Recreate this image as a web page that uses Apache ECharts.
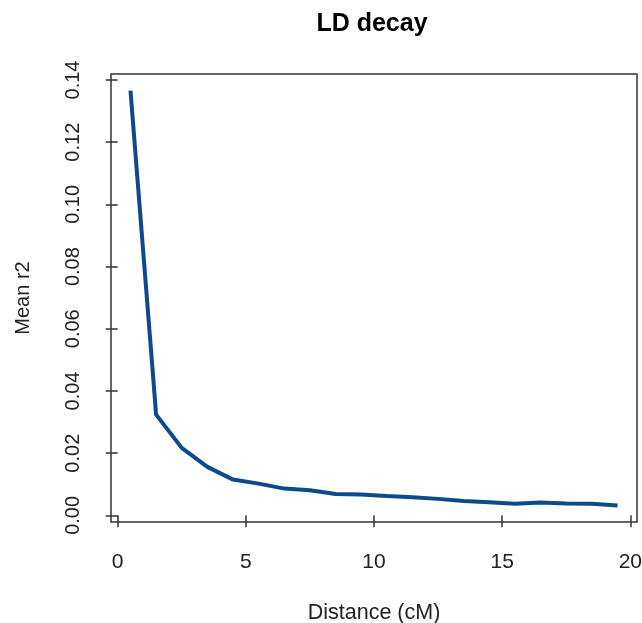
<!DOCTYPE html>
<html>
<head>
<meta charset="utf-8">
<title>LD decay</title>
<script src="https://cdn.jsdelivr.net/npm/echarts@6/dist/echarts.min.js"></script>
<style>
  html, body { margin: 0; padding: 0; background: #fff; }
  #chart { width: 642px; height: 623px; }
</style>
</head>
<body>
<div id="chart"></div>
<script>
// distance bins (cM) and mean r2
var distance = [0.5, 1.5, 2.5, 3.5, 4.5, 5.5, 6.5, 7.5, 8.5, 9.5,
                10.5, 11.5, 12.5, 13.5, 14.5, 15.5, 16.5, 17.5, 18.5, 19.5];
var meanR2 = [0.1366, 0.0324, 0.0217, 0.0156, 0.0115, 0.0102, 0.0086, 0.0081, 0.0069, 0.0067,
              0.0062, 0.0058, 0.0053, 0.0046, 0.0042, 0.0037, 0.0041, 0.0038, 0.0037, 0.0032];

var xTicks = [0, 5, 10, 15, 20];
var yTicks = [0, 0.02, 0.04, 0.06, 0.08, 0.10, 0.12, 0.14];

// R style axis range: data range padded by 4% each side
function padRange(arr) {
    var lo = Math.min.apply(null, arr), hi = Math.max.apply(null, arr);
    var d = (hi - lo) * 0.04;
    return [lo - d, hi + d];
}
var xr = padRange(distance);
var yr = padRange(meanR2);

var points = distance.map(function (d, i) { return [d, meanR2[i]]; });

var font = 'Liberation Sans, Arial, sans-serif';
var chart = echarts.init(document.getElementById('chart'));

var option = {
    animation: false,
    backgroundColor: '#fff',
    graphic: [
        {
            type: 'text',
            x: 372,
            y: 24,
            style: {
                text: 'LD decay',
                textAlign: 'center',
                textVerticalAlign: 'middle',
                font: 'bold 25px ' + font,
                fill: '#000'
            }
        }
    ],
    grid: {
        left: 111,
        right: 5,
        top: 74,
        bottom: 101,
        outerBoundsMode: 'none',
        containLabel: false,
        show: true,
        borderColor: '#333',
        borderWidth: 1.5,
        backgroundColor: 'transparent'
    },
    xAxis: {
        type: 'value',
        min: xr[0],
        max: xr[1],
        name: 'Distance (cM)',
        nameLocation: 'middle',
        nameGap: 80,
        nameTextStyle: { fontFamily: font, fontSize: 21.5, color: '#222' },
        axisLine: { show: false },
        splitLine: { show: false },
        axisTick: {
            show: true,
            inside: false,
            length: 12,
            customValues: xTicks,
            lineStyle: { color: '#333', width: 1.5 }
        },
        axisLabel: {
            customValues: xTicks,
            margin: 30,
            fontFamily: font,
            fontSize: 21,
            color: '#222'
        }
    },
    yAxis: {
        type: 'value',
        min: yr[0],
        max: yr[1],
        name: 'Mean r2',
        nameLocation: 'middle',
        nameRotate: 90,
        nameGap: 78,
        nameTextStyle: { fontFamily: font, fontSize: 20, color: '#222' },
        axisLine: { show: false },
        splitLine: { show: false },
        axisTick: {
            show: true,
            inside: false,
            length: 12,
            customValues: yTicks,
            lineStyle: { color: '#333', width: 1.5 }
        },
        axisLabel: {
            customValues: yTicks,
            rotate: 90,
            margin: 28,
            fontFamily: font,
            fontSize: 20,
            color: '#222',
            formatter: function (v) { return v.toFixed(2); }
        }
    },
    series: [
        {
            type: 'line',
            data: points,
            showSymbol: false,
            symbol: 'none',
            lineStyle: { color: '#0B4A8B', width: 4 },
            z: 3
        }
    ]
};

chart.setOption(option);
</script>
</body>
</html>
